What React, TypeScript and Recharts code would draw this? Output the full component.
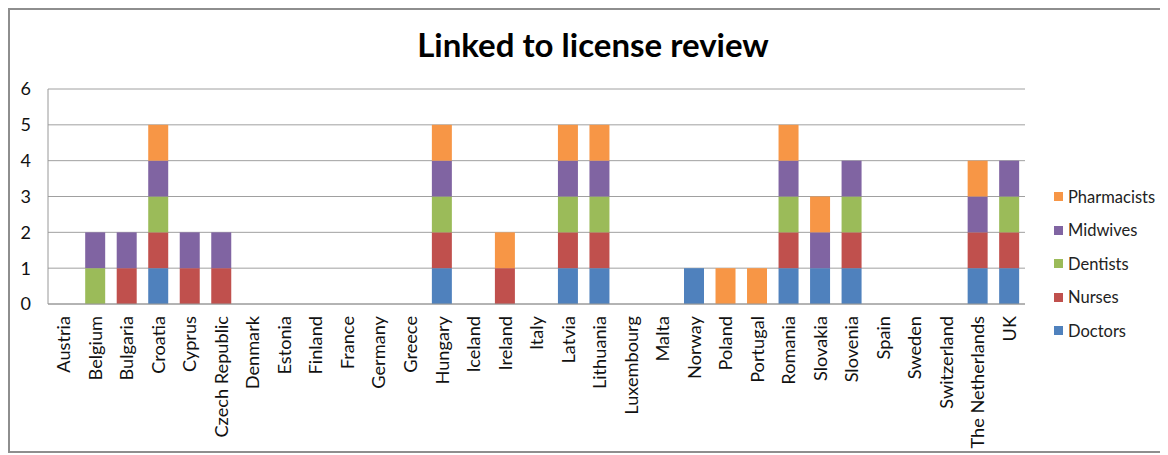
import React from "react";
import { BarChart, Bar, XAxis, YAxis, CartesianGrid } from "recharts";

const countries = [
  "Austria", "Belgium", "Bulgaria", "Croatia", "Cyprus", "Czech Republic", "Denmark", "Estonia",
  "Finland", "France", "Germany", "Greece", "Hungary", "Iceland", "Ireland", "Italy", "Latvia",
  "Lithuania", "Luxembourg", "Malta", "Norway", "Poland", "Portugal", "Romania", "Slovakia",
  "Slovenia", "Spain", "Sweden", "Switzerland", "The Netherlands", "UK",
];

const doctors = [0, 0, 0, 1, 0, 0, 0, 0, 0, 0, 0, 0, 1, 0, 0, 0, 1, 1, 0, 0, 1, 0, 0, 1, 1, 1, 0, 0, 0, 1, 1];
const nurses = [0, 0, 1, 1, 1, 1, 0, 0, 0, 0, 0, 0, 1, 0, 1, 0, 1, 1, 0, 0, 0, 0, 0, 1, 0, 1, 0, 0, 0, 1, 1];
const dentists = [0, 1, 0, 1, 0, 0, 0, 0, 0, 0, 0, 0, 1, 0, 0, 0, 1, 1, 0, 0, 0, 0, 0, 1, 0, 1, 0, 0, 0, 0, 1];
const midwives = [0, 1, 1, 1, 1, 1, 0, 0, 0, 0, 0, 0, 1, 0, 0, 0, 1, 1, 0, 0, 0, 0, 0, 1, 1, 1, 0, 0, 0, 1, 1];
const pharmacists = [0, 0, 0, 1, 0, 0, 0, 0, 0, 0, 0, 0, 1, 0, 1, 0, 1, 1, 0, 0, 0, 1, 1, 1, 1, 0, 0, 0, 0, 1, 0];

const yTicks = [0, 1, 2, 3, 4, 5, 6];

const series = [
  { key: "doctors", name: "Doctors", color: "#4f81bd" },
  { key: "nurses", name: "Nurses", color: "#c0504d" },
  { key: "dentists", name: "Dentists", color: "#9bbb59" },
  { key: "midwives", name: "Midwives", color: "#8064a2" },
  { key: "pharmacists", name: "Pharmacists", color: "#f79646" },
];

const data = countries.map((c, i) => ({
  country: c,
  doctors: doctors[i],
  nurses: nurses[i],
  dentists: dentists[i],
  midwives: midwives[i],
  pharmacists: pharmacists[i],
}));

const FONT = "Lato, 'Liberation Sans', sans-serif";

// vertical country names, reading bottom to top, centred on the band
function CountryTick(props: any) {
  const { x, y, payload } = props;
  return (
    <g transform={`translate(${x},${y})`}>
      <text transform="rotate(-90)" textAnchor="end" dy="0.36em" fontFamily={FONT} fontSize={18.2} fill="#111">
        {payload.value}
      </text>
    </g>
  );
}

// legend drawn in html, top item is the top of the stack
function LegendBox() {
  return (
    <div
      style={{
        position: "absolute",
        left: 1044,
        top: 170,
        fontFamily: FONT,
        fontSize: 16.5,
        color: "#222",
      }}
    >
      {[...series].reverse().map((s) => (
        <div key={s.key} style={{ display: "flex", alignItems: "center", height: 33.5 }}>
          <span style={{ width: 9, height: 9, background: s.color, marginRight: 5, display: "inline-block" }} />
          <span>{s.name}</span>
        </div>
      ))}
    </div>
  );
}

export default function App() {
  return (
    <div
      style={{
        position: "relative",
        width: 1158,
        height: 445,
        border: "2px solid #8e8e8e",
        boxSizing: "border-box",
        background: "#fff",
      }}
    >
      <div
        style={{
          position: "absolute",
          top: 14,
          left: 6,
          width: "100%",
          textAlign: "center",
          fontFamily: FONT,
          fontWeight: 700,
          fontSize: 33,
          color: "#000",
        }}
      >
        Linked to license review
      </div>
      <BarChart
        width={1154}
        height={441}
        data={data}
        barCategoryGap="18%"
        margin={{ top: 79, right: 139, bottom: 10, left: 8 }}
      >
        <CartesianGrid vertical={false} stroke="#a0a0a0" />
        <XAxis
          dataKey="country"
          interval={0}
          height={137}
          tickSize={0}
          tickMargin={12}
          stroke="#989898"
          tick={<CountryTick />}
        />
        <YAxis
          domain={[0, 6]}
          ticks={yTicks}
          width={30}
          tickSize={0}
          tickMargin={17}
          stroke="#989898"
          tick={{ fontFamily: FONT, fontSize: 18, fill: "#111" }}
        />
        {series.map((s) => (
          <Bar key={s.key} dataKey={s.key} name={s.name} stackId="a" fill={s.color} isAnimationActive={false} />
        ))}
      </BarChart>
      <LegendBox />
    </div>
  );
}
